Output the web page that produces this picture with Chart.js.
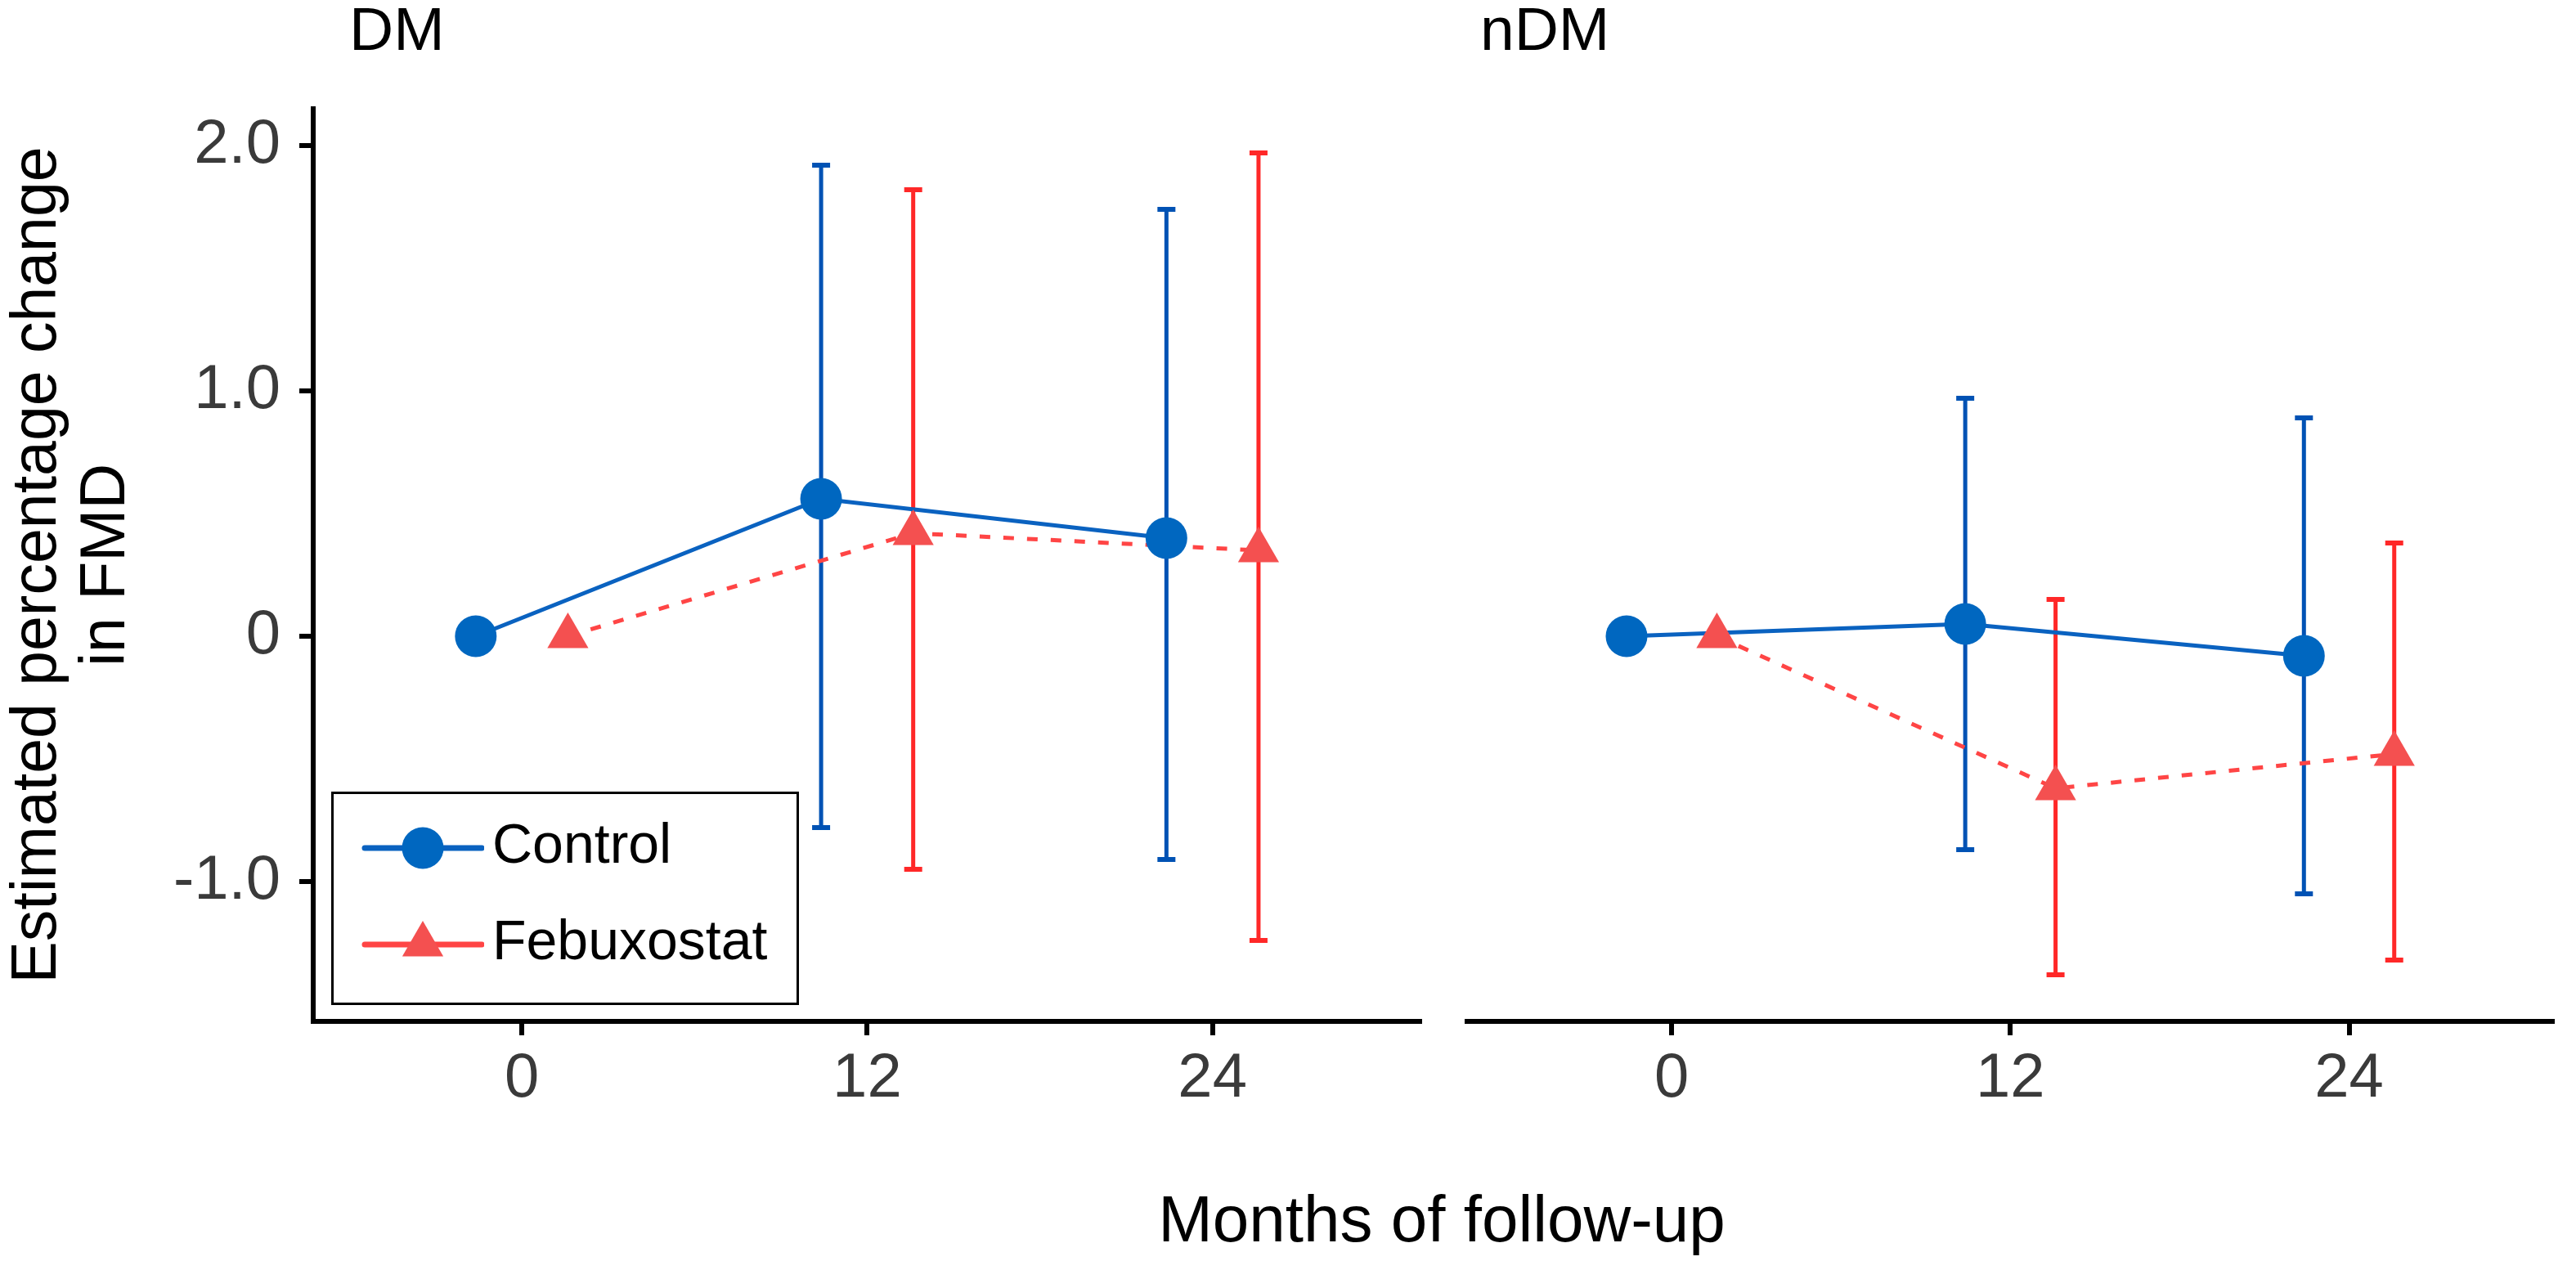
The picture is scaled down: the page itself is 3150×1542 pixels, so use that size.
<!DOCTYPE html>
<html>
<head>
<meta charset="utf-8">
<title>Estimated percentage change in FMD</title>
<script src="https://cdn.jsdelivr.net/npm/chart.js@4.4.1/dist/chart.umd.min.js"></script>
<style>
    html, body { margin: 0; padding: 0; background: #fff; }
    #figure {
        position: relative;
        width: 3150px;
        height: 1542px;
        overflow: hidden;
        font-family: 'Liberation Sans', Arial, sans-serif;
        color: #000;
    }
    #figure canvas { position: absolute; top: 0; }
    #dm-chart { left: 0; }
    #ndm-chart { left: 1765px; }
    .facet { position: absolute; top: -2px; font-size: 75px; line-height: 1; }
    #x-title {
        position: absolute;
        left: 383px;
        width: 2760px;
        top: 1451px;
        text-align: center;
        font-size: 80px;
        line-height: 1;
    }
    #legend {
        position: absolute;
        left: 405px;
        top: 968px;
        width: 572px;
        height: 261px;
        border: 3px solid #000;
        box-sizing: border-box;
        background: #fff;
    }
    .legend-row { position: absolute; left: 0; height: 60px; width: 560px; }
    .legend-row svg { position: absolute; left: 34px; top: 0; }
    .legend-row span {
        position: absolute;
        left: 194px;
        top: -6px;
        font-size: 68px;
        line-height: 60px;
        white-space: nowrap;
    }
</style>
</head>
<body>
<div id="figure">
    <canvas id="dm-chart" width="1765" height="1542"></canvas>
    <canvas id="ndm-chart" width="1385" height="1542"></canvas>
    <div class="facet" id="dm-title" style="left: 427px;"></div>
    <div class="facet" id="ndm-title" style="left: 1810px;"></div>
    <div id="x-title">Months of follow-up</div>
    <div id="legend"></div>
</div>
<script>
// ---- data ----
const months = [0, 12, 24];
const xTickLabels = ['0', '12', '24'];
const yTickValues = [-1, 0, 1, 2];
const yTickLabels = ['-1.0', '0', '1.0', '2.0'];
const seriesNames = ['Control', 'Febuxostat'];
const panelNames = ['DM', 'nDM'];

// DM panel
const dmControlMean = [0, 0.56, 0.40];
const dmControlLower = [null, -0.78, -0.91];
const dmControlUpper = [null, 1.92, 1.74];
const dmFebuxMean = [0, 0.42, 0.35];
const dmFebuxLower = [null, -0.95, -1.24];
const dmFebuxUpper = [null, 1.82, 1.97];

// nDM panel
const ndmControlMean = [0, 0.05, -0.08];
const ndmControlLower = [null, -0.87, -1.05];
const ndmControlUpper = [null, 0.97, 0.89];
const ndmFebuxMean = [0, -0.62, -0.48];
const ndmFebuxLower = [null, -1.38, -1.32];
const ndmFebuxUpper = [null, 0.15, 0.38];

// ---- styling ----
const dodge = [-1.6, 1.6];
const lineColors = ['#0a62c0', '#ff4545'];
const markerColors = ['#0067c0', '#f45050'];
const barColors = ['#0052b4', '#ff2828'];
const markerStyles = ['circle', 'triangle'];
const markerRadius = [25.5, 29];
const lineDash = [[], [13, 16]];
const fontFamily = "'Liberation Sans', Arial, sans-serif";
const tickColor = '#3a3a3a';

function errorBarPoints(xs, lower, upper) {
    const pts = [];
    xs.forEach((x, i) => {
        if (lower[i] === null) return;
        pts.push({x: x, y: lower[i]}, {x: x, y: upper[i]}, {x: x, y: null});
    });
    return pts;
}

function buildDatasets(means, lowers, uppers) {
    const sets = [];
    seriesNames.forEach((name, s) => {
        const xs = months.map(m => m + dodge[s]);
        const pts = xs.map((x, i) => ({x: x, y: means[s][i]}));
        sets.push({
            label: name + ' CI',
            data: errorBarPoints(xs, lowers[s], uppers[s]),
            borderColor: barColors[s],
            borderWidth: 5,
            spanGaps: false,
            pointStyle: 'line',
            pointRadius: 11,
            pointBorderWidth: 6,
            pointBorderColor: barColors[s],
            order: 2
        });
        sets.push({
            label: name,
            data: pts,
            borderColor: lineColors[s],
            borderWidth: 5,
            borderDash: lineDash[s],
            pointRadius: 0,
            tension: 0,
            order: 1
        });
        sets.push({
            label: name + ' points',
            data: pts,
            showLine: false,
            pointStyle: markerStyles[s],
            pointRadius: markerRadius[s],
            pointBackgroundColor: markerColors[s],
            pointBorderWidth: 0,
            order: 0
        });
    });
    return sets;
}

function renderPanel(canvasId, means, lowers, uppers, showYAxis, padding) {
    const ctx = document.getElementById(canvasId).getContext('2d');
    return new Chart(ctx, {
        type: 'line',
        data: {datasets: buildDatasets(means, lowers, uppers)},
        options: {
            responsive: false,
            animation: false,
            events: [],
            layout: {padding: padding},
            scales: {
                x: {
                    type: 'linear',
                    min: -7.25,
                    max: 31.2,
                    afterBuildTicks: scale => {
                        scale.ticks = months.map(m => ({value: m}));
                    },
                    afterFit: scale => {
                        scale.height = 293;
                    },
                    grid: {
                        drawOnChartArea: false,
                        tickLength: 17,
                        lineWidth: 6,
                        color: '#000'
                    },
                    border: {display: true, width: 6, color: '#000'},
                    ticks: {
                        padding: 8,
                        color: tickColor,
                        font: {family: fontFamily, size: 76},
                        callback: (value, index) => xTickLabels[index]
                    }
                },
                y: {
                    type: 'linear',
                    display: showYAxis,
                    min: -1.57,
                    max: 2.15,
                    afterBuildTicks: scale => {
                        scale.ticks = yTickValues.map(v => ({value: v}));
                    },
                    afterFit: scale => {
                        if (showYAxis) scale.width = 383;
                    },
                    grid: {
                        drawOnChartArea: false,
                        tickLength: 17,
                        lineWidth: 6,
                        color: '#000'
                    },
                    border: {display: true, width: 6, color: '#000'},
                    ticks: {
                        padding: 23,
                        color: tickColor,
                        font: {family: fontFamily, size: 76},
                        callback: (value, index) => yTickLabels[index]
                    },
                    title: {
                        display: true,
                        text: ['Estimated percentage change', 'in FMD'],
                        color: '#000',
                        padding: {top: 4, bottom: 0},
                        font: {family: fontFamily, size: 77, lineHeight: 1.1}
                    }
                }
            },
            plugins: {
                legend: {display: false},
                tooltip: {enabled: false}
            }
        }
    });
}

function buildLegend() {
    const box = document.getElementById('legend');
    const rowTops = [36, 154];
    const ns = 'http://www.w3.org/2000/svg';
    seriesNames.forEach((name, s) => {
        const row = document.createElement('div');
        row.className = 'legend-row';
        row.style.top = rowTops[s] + 'px';

        const svg = document.createElementNS(ns, 'svg');
        svg.setAttribute('width', '150');
        svg.setAttribute('height', '60');
        const line = document.createElementNS(ns, 'line');
        line.setAttribute('x1', '4');
        line.setAttribute('x2', '147');
        line.setAttribute('y1', '30');
        line.setAttribute('y2', '30');
        line.setAttribute('stroke', lineColors[s]);
        line.setAttribute('stroke-width', '7');
        line.setAttribute('stroke-linecap', 'round');
        svg.appendChild(line);

        let mark;
        if (markerStyles[s] === 'circle') {
            mark = document.createElementNS(ns, 'circle');
            mark.setAttribute('cx', '75');
            mark.setAttribute('cy', '30');
            mark.setAttribute('r', markerRadius[s]);
        } else {
            const r = markerRadius[s];
            const h = r * Math.sqrt(3) / 2;
            mark = document.createElementNS(ns, 'polygon');
            mark.setAttribute('points',
                [75 + ',' + (30 - r), (75 + h) + ',' + (30 + r / 2), (75 - h) + ',' + (30 + r / 2)].join(' '));
        }
        mark.setAttribute('fill', markerColors[s]);
        svg.appendChild(mark);
        row.appendChild(svg);

        const label = document.createElement('span');
        label.textContent = name;
        row.appendChild(label);
        box.appendChild(row);
    });
}

document.getElementById('dm-title').textContent = panelNames[0];
document.getElementById('ndm-title').textContent = panelNames[1];

renderPanel('dm-chart',
    [dmControlMean, dmFebuxMean],
    [dmControlLower, dmFebuxLower],
    [dmControlUpper, dmFebuxUpper],
    true, {left: 0, top: 133, right: 18, bottom: 0});

renderPanel('ndm-chart',
    [ndmControlMean, ndmFebuxMean],
    [ndmControlLower, ndmFebuxLower],
    [ndmControlUpper, ndmFebuxUpper],
    false, {left: 16, top: 133, right: 7, bottom: 0});

buildLegend();
</script>
</body>
</html>
